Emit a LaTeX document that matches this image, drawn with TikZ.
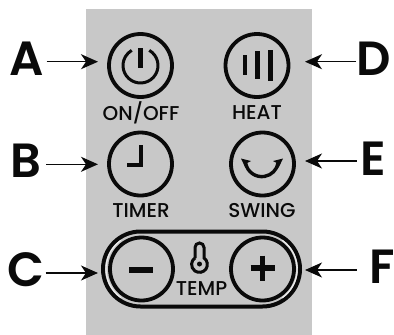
\documentclass[tikz,border=0pt]{standalone}
\usepackage{fontspec}
\setmainfont{Poppins Medium}
\newfontfamily\letterfont{Poppins SemiBold}
\usetikzlibrary{arrows.meta}
\definecolor{panelgray}{HTML}{C8C8C8}
\definecolor{inkblack}{HTML}{0A0A0A}

\begin{document}
\begin{tikzpicture}[x=1pt,y=-1pt,
    letter/.style={inner sep=0pt,minimum width=40pt,text=inkblack,font=\fontsize{48}{48}\letterfont},
    caption/.style={inner sep=0pt,text=inkblack,font=\fontsize{20}{20}\selectfont},
    button/.style={circle,draw=inkblack,line width=3.8pt,minimum size=63pt,inner sep=0pt},
    pointer/.style={draw=inkblack,line width=1.5pt,-{Stealth[length=17pt,width=15pt,inset=5pt]}},
    glyph/.style={draw=inkblack,line width=4.5pt},
    sheen/.style={draw=panelgray!35!white,line width=1.2pt}]
    \useasboundingbox (0,0) rectangle (394,335);
    \fill[panelgray] (86,9) rectangle (312,335);
    %Capsule behind the two temperature buttons
    \draw[draw=inkblack,line width=4pt,rounded corners=37.5pt] (103,231.5) rectangle (300,306.5);
    \draw[sheen] (141,269) ++(125:35) arc (125:235:35);
    \draw[sheen] (262,269) ++(-55:35.2) arc (-55:55:35.2);
    %Buttons and their captions
    \node[button] (btnA) at (140.5,65.5) {};
    \node[button] (btnD) at (257,65.5) {};
    \node[button] (btnB) at (140.5,164) {};
    \node[button] (btnE) at (262.5,164) {};
    \node[button] (btnC) at (141.5,269) {};
    \node[button] (btnF) at (262.5,269) {};
    \node[caption] (capA) at (141,113) {ON/OFF};
    \node[caption] (capD) at (257,113) {HEAT};
    \node[caption] (capB) at (141,211) {TIMER};
    \node[caption] (capE) at (262,211) {SWING};
    \node[caption] (capT) at (201.5,289) {TEMP};
    %Power symbol
    \draw[glyph,line width=3pt] (btnA) ++(-60:17.5) arc (-60:240:17.5);
    \draw[glyph] (140.5,48) -- (140.5,68);
    %Heat bars
    \draw[glyph] (245,55) -- (245,75);
    \draw[glyph] (257.5,51) -- (257.5,79);
    \draw[glyph] (270.5,50) -- (270.5,81);
    %Clock hands
    \draw[glyph] (127,165) -- (141,165) -- (141,145);
    %Swing arrow
    \draw[glyph,line width=3.4pt] (245.6,163) arc (170:10:16.5);
    \fill[inkblack] (241,158.5) -- (251,161) -- (247,163) -- (245.5,168) -- cycle;
    \fill[inkblack] (283,158.5) -- (273,161) -- (277,163) -- (278.5,168) -- cycle;
    %Minus and plus
    \draw[glyph,line width=6pt] (129,270) -- (153,270);
    \draw[glyph,line width=5.5pt] (250.5,268) -- (274.5,268);
    \draw[glyph,line width=5.5pt] (262.5,255.5) -- (262.5,280.5);
    %Thermometer
    \draw[glyph,line width=3pt] (195,258) -- (195,247.5) arc (180:360:4.5) -- (204,258) arc (-55:235:7.9);
    \fill[inkblack] (199.5,264) circle (2.5);
    %Letters
    \node[letter] (lblA) at (26.5,58.5) {A};
    \node[letter] (lblB) at (26,160.5) {B};
    \node[letter] (lblC) at (25.5,270) {C};
    \node[letter,minimum width=33pt] (lblD) at (373.5,58.5) {D};
    \node[letter,minimum width=32pt] (lblE) at (373,158.5) {E};
    \node[letter,minimum width=50pt] (lblF) at (382,267) {F};
    %Arrow tips
    \coordinate (tipA) at (98,61.7);
    \coordinate (tipB) at (98,164.3);
    \coordinate (tipC) at (98,273);
    \coordinate (tipD) at (305,61.7);
    \coordinate (tipE) at (305,161);
    \coordinate (tipF) at (305,270);
    \draw[pointer] (lblA.east |- tipA) -- (tipA);
    \draw[pointer] (lblB.east |- tipB) -- (tipB);
    \draw[pointer] (lblC.east |- tipC) -- (tipC);
    \draw[pointer] (lblD.west |- tipD) -- (tipD);
    \draw[pointer] (lblE.west |- tipE) -- (tipE);
    \draw[pointer] (lblF.west |- tipF) -- (tipF);
\end{tikzpicture}
\end{document}
